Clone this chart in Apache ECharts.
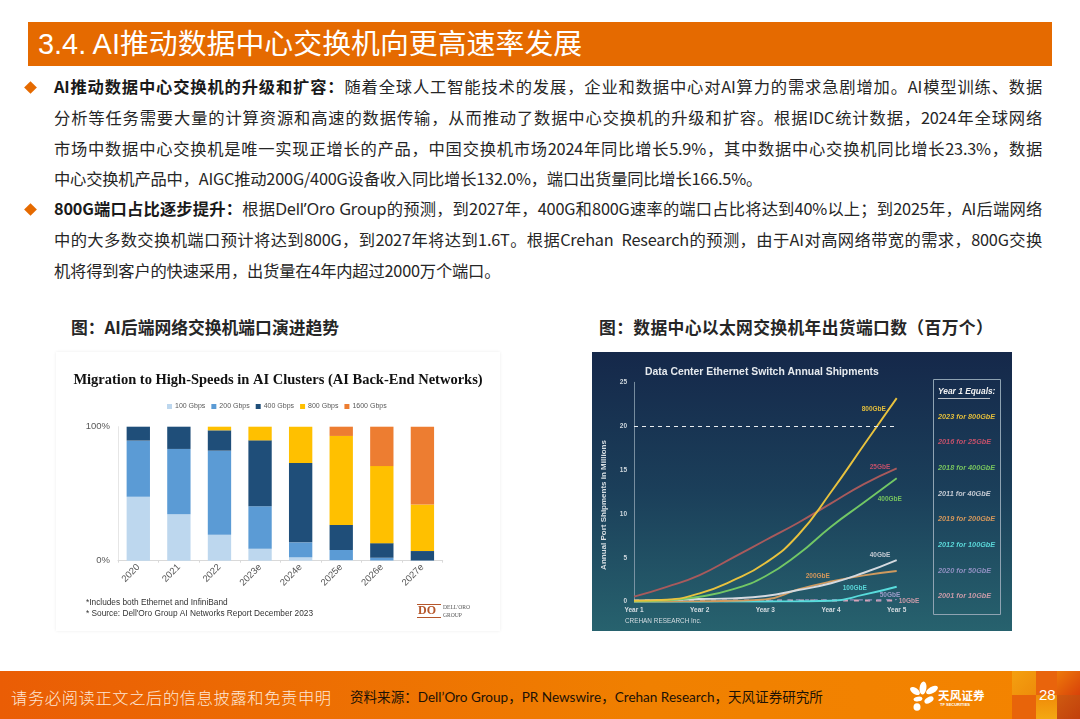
<!DOCTYPE html>
<html>
<head>
<meta charset="utf-8">
<title>3.4 AI推动数据中心交换机向更高速率发展</title>
<script src="https://cdn.jsdelivr.net/npm/echarts@6/dist/echarts.min.js"></script>
<style>
  html, body { margin: 0; padding: 0; background: #fff; }
  body { width: 1080px; height: 719px; position: relative; overflow: hidden; font-family: Lato, "Noto Sans CJK SC", sans-serif; }
  .abs { position: absolute; }
  #banner { left: 28px; top: 22px; width: 1024px; height: 44px; background: #e56a00; color: #fff; font: 28.9px/44px "Liberation Sans", "Noto Sans CJK SC", sans-serif; padding-left: 10px; box-sizing: border-box; white-space: nowrap; }
  .line { position: absolute; left: 54px; width: 988px; height: 24px; font-size: 16.3px; line-height: 24px; color: #262626; text-align: justify; text-align-last: justify; white-space: nowrap; font-family: "Noto Sans CJK SC", sans-serif; letter-spacing: -0.2px; }
  .line.last { text-align-last: left; }
  .line b { font-weight: 700; color: #1a1a1a; }
  .line i { font-style: normal; font-family: "Noto Sans", sans-serif; }
  .diamond { position: absolute; left: 26px; width: 9px; height: 9px; background: #e56a00; transform: rotate(45deg); }
  .cap { position: absolute; top: 316px; font-size: 16.8px; line-height: 22px; font-weight: 700; color: #262626; white-space: nowrap; font-family: "Noto Sans CJK SC", sans-serif; }
  #chartLeft { left: 56px; top: 352px; width: 444px; height: 279px; }
  #panelLeft { left: 56px; top: 352px; width: 444px; height: 279px; box-shadow: 0 0 3px #ececec; }
  #chartRight { left: 592px; top: 352px; width: 420px; height: 279px; background: linear-gradient(180deg, #15284a 0%, #1b3f5a 50%, #27626e 100%); }
  #footer { left: 0; top: 671px; width: 1080px; height: 48px; background: linear-gradient(90deg, #ea5d05 0%, #f08000 60%, #f48400 100%); }
  #warn { left: 11px; top: 686px; font-size: 16.3px; line-height: 22px; letter-spacing: .6px; color: #fde6d5; font-family: "Noto Sans CJK SC", sans-serif; white-space: nowrap; font-weight: 300; }
  #source { left: 350px; top: 687px; font-size: 13.55px; line-height: 20px; color: #1d1206; white-space: nowrap; }
  #tf { left: 938px; top: 688px; color: #fff; font-size: 11.5px; line-height: 14px; font-weight: 700; font-family: "Noto Sans CJK SC", sans-serif; white-space: nowrap; letter-spacing: .2px; }
  #tf2 { left: 940px; top: 702px; color: #fff; font-size: 4px; line-height: 5px; font-weight: 700; font-family: "Liberation Sans", sans-serif; white-space: nowrap; }
  #page { left: 1039px; top: 685px; color: #fff; font: 15px/20px "Liberation Sans", sans-serif; }
</style>
</head>
<body>
<div class="abs" id="banner">3.4. AI推动数据中心交换机向更高速率发展</div>

<div class="diamond" style="top:83px"></div>
<div class="line" style="top:74px"><b>AI推动数据中心交换机的升级和扩容：</b>随着全球人工智能技术的发展，企业和数据中心对AI算力的需求急剧增加。AI模型训练、数据</div>
<div class="line" style="top:105px">分析等任务需要大量的计算资源和高速的数据传输，从而推动了数据中心交换机的升级和扩容。根据IDC统计数据，2024年全球网络</div>
<div class="line" style="top:136px">市场中数据中心交换机是唯一实现正增长的产品，中国交换机市场2024年同比增长5.9%，其中数据中心交换机同比增长23.3%，数据</div>
<div class="line last" style="top:166px">中心交换机产品中，AIGC推动200G/400G设备收入同比增长132.0%，端口出货量同比增长166.5%。</div>
<div class="diamond" style="top:205px"></div>
<div class="line" style="top:196px"><b>800G端口占比逐步提升：</b>根据<i>Dell’Oro Group</i>的预测，到2027年，400G和800G速率的端口占比将达到40%以上；到2025年，AI后端网络</div>
<div class="line" style="top:227px">中的大多数交换机端口预计将达到800G，到2027年将达到1.6T。根据Crehan&nbsp; Research的预测，由于AI对高网络带宽的需求，800G交换</div>
<div class="line last" style="top:258px">机将得到客户的快速采用，出货量在4年内超过2000万个端口。</div>

<div class="cap" style="left:71px">图：AI后端网络交换机端口演进趋势</div>
<div class="cap" style="left:599px;letter-spacing:.35px">图：数据中心以太网交换机年出货端口数（百万个）</div>

<div class="abs" id="panelLeft"></div>
<div class="abs" id="chartLeft"></div>
<div class="abs" id="chartRight"></div>

<div class="abs" id="footer"></div>
<!-- corner blocks of the footer -->
<div class="abs" style="left:1012px;top:671px;width:24px;height:24px;background:linear-gradient(135deg,#f4a010,#ee8c0a)"></div>
<div class="abs" style="left:1036px;top:671px;width:21px;height:24px;background:#e9640c"></div>
<div class="abs" style="left:1057px;top:671px;width:23px;height:24px;background:linear-gradient(135deg,#ee7a0a,#d8420a)"></div>
<div class="abs" style="left:1012px;top:695px;width:24px;height:24px;background:#e8640a"></div>
<div class="abs" style="left:1036px;top:695px;width:21px;height:24px;background:linear-gradient(180deg,#f08a08,#f4a812)"></div>
<div class="abs" style="left:1057px;top:695px;width:23px;height:24px;background:linear-gradient(135deg,#cf5a10,#c2400c)"></div>
<div class="abs" id="warn">请务必阅读正文之后的信息披露和免责申明</div>
<div class="abs" id="source">资料来源：Dell’Oro Group，PR Newswire，Crehan Research，天风证券研究所</div>
<svg class="abs" style="left:910px;top:680px" width="28" height="32" viewBox="0 0 28 32">
  <g fill="#fff">
    <ellipse cx="13" cy="8" rx="3.4" ry="6.5" transform="rotate(8 13 8)"/>
    <ellipse cx="22" cy="10" rx="3.2" ry="6.5" transform="rotate(60 22 10)"/>
    <ellipse cx="5" cy="11" rx="3.2" ry="5.5" transform="rotate(-55 5 11)"/>
    <ellipse cx="8" cy="19" rx="4.5" ry="2.4" transform="rotate(-10 8 19)"/>
    <ellipse cx="19" cy="20" rx="5" ry="2.8" transform="rotate(-30 19 20)"/>
    <ellipse cx="7" cy="27" rx="3.5" ry="3.8"/>
  </g>
</svg>
<div class="abs" id="tf">天风证券</div>
<div class="abs" id="tf2">TF SECURITIES</div>
<div class="abs" id="page">28</div>

<script>
// left chart: migration to high speeds
var migrationYears = ['2020', '2021', '2022', '2023e', '2024e', '2025e', '2026e', '2027e'];
var share100G = [47.8, 34.6, 19.4, 9.0, 2.5, 0.5, 0.2, 0];
var share200G = [41.8, 48.8, 62.7, 31.6, 11.2, 7.5, 2.0, 0.2];
var share400G = [10.4, 16.6, 15.2, 49.2, 59.2, 18.7, 10.9, 7.0];
var share800G = [0, 0, 2.7, 10.2, 27.1, 66.4, 57.5, 34.8];
var share1600G = [0, 0, 0, 0, 0, 6.9, 29.4, 58.0];

var yearPositions = [1, 1.5, 2, 2.5, 3, 3.5, 4, 4.5, 5];
var yearLabels = ['Year 1', 'Year 2', 'Year 3', 'Year 4', 'Year 5'];
var ship800 = [0.1, 0.23, 0.95, 2.4, 4.4, 7.6, 12.5, 17.85, 23.2];
var ship25 = [0.57, 1.7, 3.04, 5.0, 7.0, 9.0, 11.2, 13.4, 15.2];
var ship400 = [0.05, 0.15, 0.57, 1.4, 2.9, 5.4, 8.55, 11.3, 14.06];
var ship40 = [0.1, 0.2, 0.3, 0.38, 0.65, 1.33, 2.1, 3.3, 4.75];
var ship200 = [0.02, 0.03, 0.05, 0.1, 0.27, 1.4, 2.3, 3.0, 3.5];
var ship100 = [0, 0, 0, 0.02, 0.03, 0.05, 0.1, 0.8, 1.7];
var ship50 = [0, 0, 0, 0.02, 0.1, 0.2, 0.2, 0.2, 0.25];
var ship10 = [0.15, 0.15, 0.15, 0.15, 0.15, 0.15, 0.15, 0.15, 0.15];
var referenceLevel = 20;

var yearOneNotes = ['2023 for 800GbE', '2016 for 25GbE', '2018 for 400GbE', '2011 for 40GbE', '2019 for 200GbE', '2012 for 100GbE', '2020 for 50GbE', '2001 for 10GbE'];
var noteColors = ['#e2bd3c', '#c2506a', '#76c25e', '#c3c9d2', '#d4975c', '#5ad6d8', '#8f8fc0', '#c89aa8'];

function barSeries(name, data, color) {
  return {
    name: name,
    type: 'bar',
    stack: 'share',
    barCategoryGap: '42.5%',
    data: data,
    itemStyle: { color: color }
  };
}

var left = echarts.init(document.getElementById('chartLeft'));
left.setOption({
  animation: false,
  textStyle: { fontFamily: 'Liberation Sans' },
  title: {
    text: 'Migration to High-Speeds in AI Clusters (AI Back-End Networks)',
    left: 'center',
    top: 16,
    textStyle: { fontFamily: 'Liberation Serif', fontWeight: 'bold', fontSize: 14.5, color: '#111' }
  },
  legend: {
    left: 106,
    top: 46,
    itemWidth: 5,
    itemHeight: 5,
    itemGap: 6,
    icon: 'rect',
    textStyle: { fontSize: 7, color: '#595959', padding: [0, 0, 0, -2] }
  },
  grid: { left: 62, top: 74.7, width: 324.7, height: 134 },
  xAxis: {
    type: 'category',
    data: migrationYears,
    axisLine: { lineStyle: { color: '#d9d9d9' } },
    axisTick: { show: true, alignWithLabel: false, length: 2, lineStyle: { color: '#d9d9d9' } },
    axisLabel: { rotate: 45, fontSize: 9.5, color: '#595959', interval: 0, margin: 5 }
  },
  yAxis: {
    type: 'value',
    min: 0,
    max: 100,
    interval: 100,
    splitLine: { show: false },
    axisLine: { show: true, lineStyle: { color: '#e6e6e6' } },
    axisTick: { show: false },
    axisLabel: { formatter: '{value}%', fontSize: 9.5, color: '#595959', margin: 8 }
  },
  series: [
    barSeries('100 Gbps', share100G, '#bdd7ee'),
    barSeries('200 Gbps', share200G, '#5b9bd5'),
    barSeries('400 Gbps', share400G, '#1f4e79'),
    barSeries('800 Gbps', share800G, '#ffc000'),
    barSeries('1600 Gbps', share1600G, '#ed7d31')
  ],
  graphic: [
    { type: 'text', left: 30, top: 247, style: { text: '*Includes both Ethernet and InfiniBand', fontSize: 8.3, fill: '#333', fontFamily: 'Liberation Sans' } },
    { type: 'text', left: 30, top: 258, style: { text: "* Source: Dell'Oro Group AI Networks Report December 2023", fontSize: 8.3, fill: '#333', fontFamily: 'Liberation Sans' } },
    // Dell'Oro logo
    { type: 'rect', left: 361, top: 252, shape: { width: 24, height: 1 }, style: { fill: '#b5562a' } },
    { type: 'rect', left: 361, top: 265, shape: { width: 24, height: 1 }, style: { fill: '#b5562a' } },
    { type: 'text', left: 362, top: 253, style: { text: 'DO', fontSize: 12, fontWeight: 'bold', fill: '#b5562a', fontFamily: 'Liberation Serif' } },
    { type: 'text', left: 387, top: 252, style: { text: "DELL'ORO\nGROUP", fontSize: 5.6, lineHeight: 8, fill: '#555', fontFamily: 'Liberation Serif' } }
  ]
});

function shipSeries(name, data, color, labelColor, offset, extra) {
  var s = {
    name: name,
    type: 'line',
    smooth: 0.5,
    symbol: 'none',
    data: yearPositions.map(function (x, i) { return [x, data[i]]; }),
    lineStyle: { color: color, width: 1.9 },
    endLabel: {
      show: true,
      formatter: name,
      offset: offset,
      fontSize: 6.5,
      fontWeight: 'bold',
      color: labelColor,
      fontFamily: 'Liberation Sans'
    }
  };
  for (var k in extra) s[k] = extra[k];
  return s;
}

var noteGraphics = [
  { type: 'rect', left: 339, top: 25, shape: { width: 67, height: 235 }, style: { fill: 'none', stroke: '#8fa3b2', lineWidth: 1 } },
  { type: 'text', left: 346, top: 36, style: { text: 'Year 1 Equals:', fontSize: 8.4, fontWeight: 'bold', fontStyle: 'italic', fill: '#f2f2f2', fontFamily: 'Liberation Sans' } },
  { type: 'rect', left: 346, top: 46, shape: { width: 52, height: 0.7 }, style: { fill: '#f2f2f2' } },
  { type: 'text', left: 33, top: 266, style: { text: 'CREHAN RESEARCH Inc.', fontSize: 6.4, fill: '#d5dde2', fontFamily: 'Liberation Sans' } }
];
yearOneNotes.forEach(function (note, i) {
  noteGraphics.push({
    type: 'text',
    left: 346,
    top: 61 + i * 25.7,
    style: { text: note, fontSize: 7.3, fontWeight: 'bold', fontStyle: 'italic', fill: noteColors[i], fontFamily: 'Liberation Sans' }
  });
});

var right = echarts.init(document.getElementById('chartRight'));
right.setOption({
  animation: false,
  backgroundColor: 'transparent',
  textStyle: { fontFamily: 'Liberation Sans' },
  title: {
    text: 'Data Center Ethernet Switch Annual Shipments',
    left: 48,
    top: 10,
    textStyle: { fontFamily: 'Liberation Sans', fontWeight: 'bold', fontSize: 10.4, color: '#e6eaee' }
  },
  grid: { left: 35.7, top: 30.3, width: 269, height: 219.4 },
  xAxis: {
    type: 'value',
    min: 1,
    max: 5,
    interval: 1,
    splitLine: { show: false },
    axisLine: { show: false },
    axisTick: { show: false },
    axisLabel: {
      formatter: function (v) { return yearLabels[v - 1]; },
      fontSize: 6.5,
      fontWeight: 'bold',
      color: '#d5dde2',
      margin: 5
    }
  },
  yAxis: {
    type: 'value',
    min: 0,
    max: 25,
    interval: 5,
    name: 'Annual Port Shipments in Millions',
    nameLocation: 'middle',
    nameGap: 26,
    nameRotate: 90,
    nameTextStyle: { fontSize: 8, fontWeight: 'bold', color: '#d8dfe4', padding: [0, 26, 0, 0] },
    splitLine: { show: false },
    axisLine: { show: true, onZero: false, lineStyle: { color: '#8fa3b2', width: 0.8 } },
    axisTick: { show: false },
    axisLabel: { fontSize: 6.5, fontWeight: 'bold', color: '#cfd7dd', margin: 7 }
  },
  series: [
    shipSeries('10GbE', ship10, '#d9a4b8', '#c89aa8', [-6, 1], { lineStyle: { color: '#d9a4b8', width: 2, type: [5, 6] } }),
    shipSeries('50GbE', ship50, '#8f8fc0', '#9b9bc8', [-25, -4], { lineStyle: { color: '#8f8fc0', width: 1.2, type: [4, 5] } }),
    shipSeries('100GbE', ship100, '#58dcdc', '#5ad6d8', [-62, 1], {}),
    shipSeries('200GbE', ship200, '#cf9a5e', '#d4975c', [-99, 5], {}),
    shipSeries('40GbE', ship40, '#d5dae0', '#c3c9d2', [-35, -5], {}),
    shipSeries('400GbE', ship400, '#72c765', '#76c25e', [-27, 21], {}),
    shipSeries('25GbE', ship25, '#a85a5c', '#c2506a', [-35, -1], {}),
    shipSeries('800GbE', ship800, '#e8c23e', '#e2bd3c', [-43, 11], {
      markLine: {
        silent: true,
        symbol: 'none',
        label: { show: false },
        lineStyle: { color: '#e8edf0', type: [4, 4], width: 1.2 },
        data: [{ yAxis: referenceLevel }]
      }
    })
  ],
  graphic: noteGraphics
});
</script>
</body>
</html>
